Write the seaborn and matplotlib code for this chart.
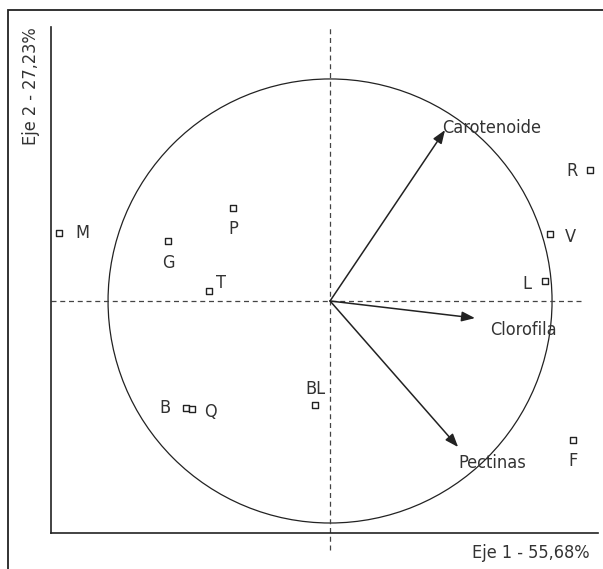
import numpy as np
import pandas as pd
import seaborn as sns
import matplotlib.pyplot as plt
from matplotlib.patches import Circle, Rectangle

# sample scores on the two first axes
samples = ["M", "P", "G", "T", "B", "Q", "BL", "R", "V", "L", "F"]
eje1 = [-1.221, -0.437, -0.730, -0.545, -0.649, -0.622, -0.068, 1.171, 0.991, 0.968, 1.095]
eje2 = [0.306, 0.419, 0.270, 0.045, -0.482, -0.486, -0.468, 0.590, 0.302, 0.090, -0.626]

# variable loadings (arrows)
variables = ["Carotenoide", "Clorofila", "Pectinas"]
load1 = [0.518, 0.653, 0.577]
load2 = [0.770, -0.077, -0.658]

# label offsets in points (dx, dy, ha, va)
label_pos = {
    "M": (12, 0, "left", "center"),
    "P": (0, -9, "center", "top"),
    "G": (0, -9, "center", "top"),
    "T": (5, 6, "left", "center"),
    "B": (-11, 0, "right", "center"),
    "Q": (9, -2, "left", "center"),
    "BL": (0, 5, "center", "bottom"),
    "R": (-9, -1, "right", "center"),
    "V": (11, -2, "left", "center"),
    "L": (-10, -2, "right", "center"),
    "F": (0, -9, "center", "top"),
}
var_pos = {
    "Carotenoide": (0.73, 0.78),
    "Clorofila": (0.87, -0.13),
    "Pectinas": (0.73, -0.73),
}

sns.set_style("white")
plt.rcParams["font.family"] = ["DejaVu Sans"]
plt.rcParams["font.stretch"] = "condensed"

ink = "#222222"
txt = "#333333"
fs = 13

fig = plt.figure(figsize=(6.03, 5.69), dpi=100)
fig.patches.append(Rectangle((8 / 603, -0.1), 1.2, 1.1 - 10 / 569 + 0.0001,
                             transform=fig.transFigure, fill=False,
                             edgecolor=ink, linewidth=1.3))
ax = fig.add_axes([51 / 603, 1 - 533 / 569, 547 / 603, 506 / 569])

df = pd.DataFrame({"eje1": eje1, "eje2": eje2, "muestra": samples})
sns.scatterplot(data=df, x="eje1", y="eje2", marker="s", s=20,
                facecolor="white", edgecolor=ink, linewidth=1.0, ax=ax, zorder=5)

for name, x, y in zip(samples, eje1, eje2):
    dx, dy, ha, va = label_pos[name]
    ax.annotate(name, (x, y), xytext=(dx, dy), textcoords="offset points",
                ha=ha, va=va, fontsize=fs, color=txt)

ax.add_patch(Circle((0, 0), 1.0, fill=False, edgecolor=ink, linewidth=0.9))
ax.axhline(0, xmin=0, xmax=0.975, color="#444444", linestyle=(0, (4, 3)), linewidth=0.9)
ax.plot([0, 0], [-1.12, 1.234], color="#444444", linestyle=(0, (4, 3)),
        linewidth=0.9, clip_on=False)

for name, x, y in zip(variables, load1, load2):
    ax.annotate("", xy=(x, y), xytext=(0, 0),
                arrowprops=dict(arrowstyle="-|>,head_length=0.8,head_width=0.3",
                                color=ink, linewidth=1.1, shrinkA=0, shrinkB=0))
    tx, ty = var_pos[name]
    ax.text(tx, ty, name, ha="center", va="center", fontsize=fs, color=txt)

ax.set_xlim(-1.257, 1.207)
ax.set_ylim(-1.045, 1.234)
ax.set_xticks([])
ax.set_yticks([])
ax.set_xlabel("")
ax.set_ylabel("")
for side in ["top", "right"]:
    ax.spines[side].set_visible(False)
for side in ["left", "bottom"]:
    ax.spines[side].set_color(ink)
    ax.spines[side].set_linewidth(1.2)

fig.text(31 / 603, 1 - 27 / 569, "Eje 2 - 27,23%", rotation=90, ha="center",
         va="top", fontsize=fs, color=txt)
fig.text(590 / 603, 1 - 553 / 569, "Eje 1 - 55,68%", ha="right", va="center",
         fontsize=fs, color=txt)

fig.savefig("out.png", dpi=100)
